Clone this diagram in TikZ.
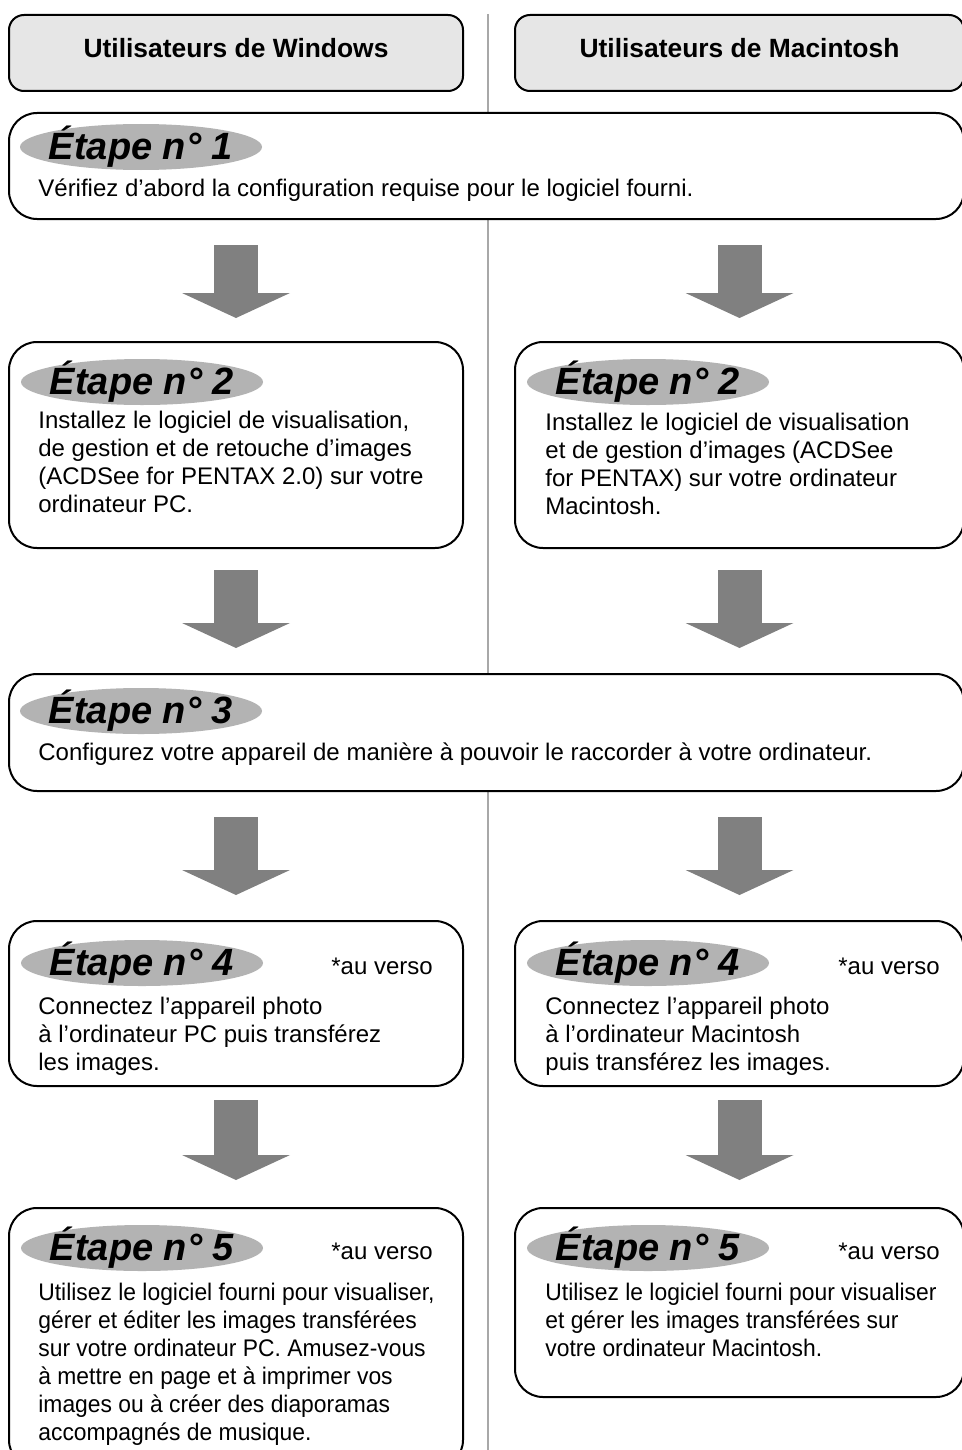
\documentclass[tikz,border=0pt]{standalone}
\usepackage{fontspec}
\setmainfont{Liberation Sans}
\usepackage{xcolor}
\usetikzlibrary{arrows.meta,calc,positioning,shapes.geometric}
\definecolor{headgray}{HTML}{E6E6E6}
\definecolor{badgegray}{HTML}{B3B3B3}
\definecolor{arrowgray}{HTML}{808080}
\definecolor{rulegray}{HTML}{A8A8A8}
\tikzstyle{headbox} = [draw, line width=1pt, rounded corners=7.5pt, fill=headgray, anchor=north west, minimum height=38pt, text depth=5pt, font=\fontsize{13.2}{16}\selectfont\bfseries]
\tikzstyle{stepbox} = [draw, line width=1pt, rounded corners=14pt, fill=white, anchor=north west, minimum width=227pt]
\tikzstyle{widebox} = [stepbox, minimum width=477.5pt]
\tikzstyle{badge} = [ellipse, fill=badgegray, minimum width=121pt, minimum height=23pt, inner xsep=-4pt, inner ysep=-3pt, font=\fontsize{19}{22}\selectfont\bfseries\itshape]
\tikzstyle{bodytext} = [anchor=north west, align=left, inner sep=0pt, font=\fontsize{12}{14}\selectfont]
\tikzstyle{bodytight} = [bodytext, font=\fontsize{12}{14}\selectfont\addfontfeature{FakeStretch=0.952}]
\tikzstyle{verso} = [anchor=west, inner sep=0pt, font=\fontsize{12}{14}\selectfont]
\tikzstyle{blockarrow} = [arrowgray, line width=22pt, -{Triangle[width=54pt,length=12.5pt,line width=0pt]}]

\begin{document}
\begin{tikzpicture}[x=0.5pt, y=-0.5pt]
% cadre de la page
\useasboundingbox (0,0) rectangle (962,1450);
\clip (0,0) rectangle (962,1450);

% ligne de séparation des deux colonnes
\coordinate (divtop) at (488,14);
\coordinate (divbot) at (488,1450);
\draw[rulegray, line width=0.75pt] (divtop) -- (divbot);

% en-têtes
\node[headbox, minimum width=227pt] (hw) at (8,14) {Utilisateurs de Windows};
\node[headbox, minimum width=224.5pt] (hm) at (514,14) {Utilisateurs de Macintosh};

% étape 1
\node[widebox, minimum height=53pt] (s1) at (8,112) {};
\node[badge] (b1) at ($(s1.north west)+(133,35)$) {Étape n° 1};
\node[bodytext] (t1) at ($(s1.north west)+(30,66)$) {Vérifiez d’abord la configuration requise pour le logiciel fourni.};

% étape 2
\node[stepbox, minimum height=103pt] (w2) at (8,341) {};
\node[stepbox, minimum width=224.5pt, minimum height=103pt] (m2) at (514,341) {};
\node[badge] (bw2) at ($(w2.north west)+(134,41)$) {Étape n° 2};
\node[badge] (bm2) at ($(m2.north west)+(134,41)$) {Étape n° 2};
\node[bodytext] (tw2) at ($(w2.north west)+(30,70)$) {Installez le logiciel de visualisation,\\de gestion et de retouche d’images\\(ACDSee for PENTAX 2.0) sur votre\\ordinateur PC.};
\node[bodytext] (tm2) at ($(m2.north west)+(31,72)$) {Installez le logiciel de visualisation\\et de gestion d’images (ACDSee\\for PENTAX) sur votre ordinateur\\Macintosh.};

% étape 3
\node[widebox, minimum height=58.5pt] (s3) at (8,673) {};
\node[badge] (b3) at ($(s3.north west)+(133,38)$) {Étape n° 3};
\node[bodytext] (t3) at ($(s3.north west)+(30,69)$) {Configurez votre appareil de manière à pouvoir le raccorder à votre ordinateur.};

% étape 4
\node[stepbox, minimum height=82.5pt] (w4) at (8,920) {};
\node[stepbox, minimum width=224.5pt, minimum height=82.5pt] (m4) at (514,920) {};
\node[badge] (bw4) at ($(w4.north west)+(134,43)$) {Étape n° 4};
\node[badge] (bm4) at ($(m4.north west)+(134,43)$) {Étape n° 4};
\node[verso] (vw4) at ($(w4.north west)+(323,46)$) {*au verso};
\node[verso] (vm4) at ($(m4.north west)+(324,46)$) {*au verso};
\node[bodytext] (tw4) at ($(w4.north west)+(30,77)$) {Connectez l’appareil photo\\à l’ordinateur PC puis transférez\\les images.};
\node[bodytext] (tm4) at ($(m4.north west)+(31,77)$) {Connectez l’appareil photo\\à l’ordinateur Macintosh\\puis transférez les images.};

% étape 5
\node[stepbox, minimum height=130pt] (w5) at (8,1207) {};
\node[stepbox, minimum width=224.5pt, minimum height=94.5pt] (m5) at (514,1207) {};
\node[badge] (bw5) at ($(w5.north west)+(134,41)$) {Étape n° 5};
\node[badge] (bm5) at ($(m5.north west)+(134,41)$) {Étape n° 5};
\node[verso] (vw5) at ($(w5.north west)+(323,44)$) {*au verso};
\node[verso] (vm5) at ($(m5.north west)+(324,44)$) {*au verso};
\node[bodytight] (tw5) at ($(w5.north west)+(30,76)$) {Utilisez le logiciel fourni pour visualiser,\\gérer et éditer les images transférées\\sur votre ordinateur PC. Amusez-vous\\à mettre en page et à imprimer vos\\images ou à créer des diaporamas\\accompagnés de musique.};
\node[bodytight] (tm5) at ($(m5.north west)+(31,76)$) {Utilisez le logiciel fourni pour visualiser\\et gérer les images transférées sur\\votre ordinateur Macintosh.};

% flèches
\draw[blockarrow] ($(s1.south -| hw.south)+(0,25)$) -- ($(w2.north)+(0,-23)$);
\draw[blockarrow] ($(s1.south -| m2.south)+(0,25)$) -- ($(m2.north)+(0,-23)$);
\draw[blockarrow] ($(w2.south)+(0,21)$) -- ($(s3.north -| w2.north)+(0,-25)$);
\draw[blockarrow] ($(m2.south)+(0,21)$) -- ($(s3.north -| m2.north)+(0,-25)$);
\draw[blockarrow] ($(s3.south -| w4.north)+(0,25)$) -- ($(w4.north)+(0,-25)$);
\draw[blockarrow] ($(s3.south -| m4.north)+(0,25)$) -- ($(m4.north)+(0,-25)$);
\draw[blockarrow] ($(w4.south)+(0,13)$) -- ($(w5.north)+(0,-27)$);
\draw[blockarrow] ($(m4.south)+(0,13)$) -- ($(m5.north)+(0,-27)$);
\end{tikzpicture}
\end{document}
